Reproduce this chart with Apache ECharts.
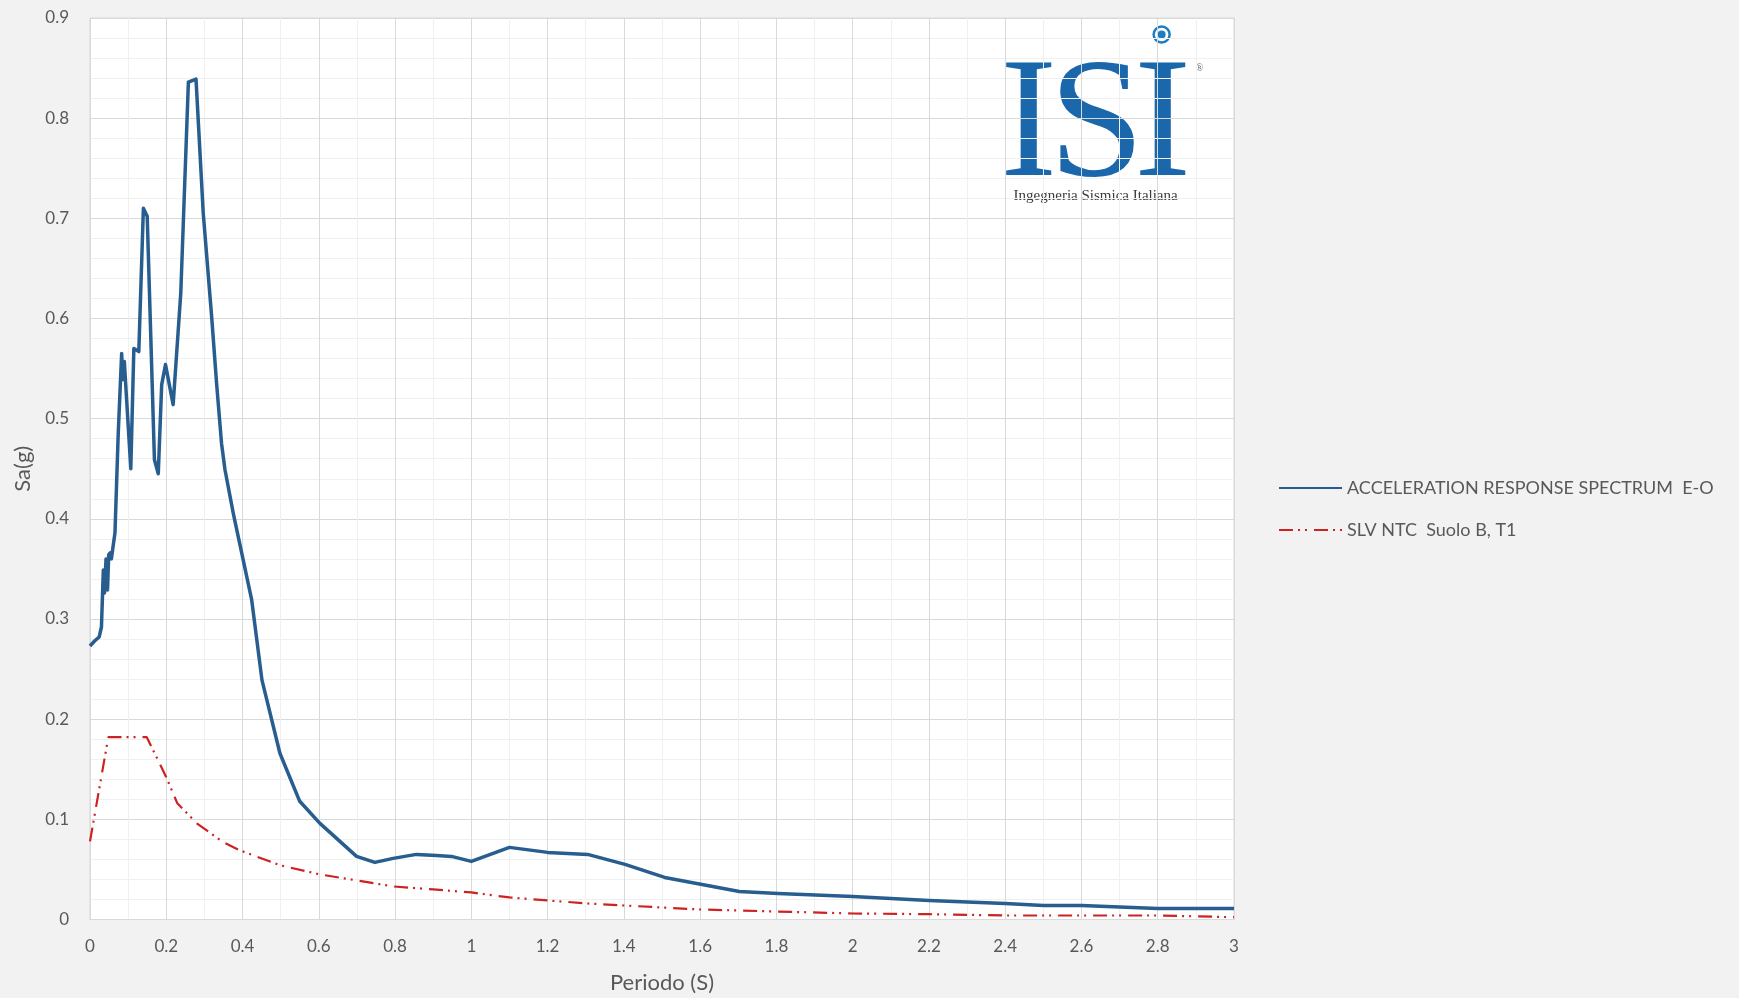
<!DOCTYPE html>
<html>
<head>
<meta charset="utf-8">
<title>Acceleration response spectrum</title>
<script src="https://cdn.jsdelivr.net/npm/echarts@6/dist/echarts.min.js"></script>
<style>
  html, body { margin: 0; padding: 0; background: #f2f2f2; }
  #chart { width: 1739px; height: 998px; }
</style>
</head>
<body>
<div id="chart"></div>
<script>
// Recorded spectrum, E-O component: period (s) and spectral acceleration (g)
const periodEO = [
  0, 0.012, 0.024, 0.030, 0.035, 0.038, 0.042, 0.046, 0.049, 0.053, 0.056,
  0.0655, 0.074, 0.083, 0.086, 0.090, 0.095, 0.107, 0.115, 0.128, 0.140,
  0.150, 0.169, 0.179, 0.188, 0.198, 0.218, 0.238, 0.258, 0.278, 0.297,
  0.319, 0.332, 0.345, 0.354, 0.376, 0.424, 0.451, 0.498, 0.550, 0.603,
  0.699, 0.747, 0.795, 0.856, 0.909, 0.948, 1.000, 1.100, 1.200, 1.305,
  1.403, 1.507, 1.605, 1.703, 1.804, 2.0, 2.2, 2.4, 2.5, 2.6, 2.8, 3.0
];
const saEO = [
  0.273, 0.278, 0.282, 0.292, 0.349, 0.326, 0.360, 0.329, 0.364, 0.366, 0.360,
  0.386, 0.485, 0.565, 0.539, 0.557, 0.556, 0.450, 0.570, 0.567, 0.710,
  0.702, 0.459, 0.445, 0.534, 0.554, 0.514, 0.625, 0.836, 0.839, 0.705,
  0.602, 0.535, 0.475, 0.449, 0.405, 0.319, 0.239, 0.166, 0.118, 0.096,
  0.063, 0.057, 0.061, 0.065, 0.064, 0.063, 0.058, 0.072, 0.067, 0.065,
  0.055, 0.042, 0.035, 0.028, 0.026, 0.023, 0.019, 0.016, 0.014, 0.014, 0.011, 0.011
];

// NTC design spectrum, SLV, soil B, topography T1
const periodNTC = [
  0, 0.048, 0.149, 0.2, 0.229, 0.28, 0.35, 0.393, 0.5, 0.603, 0.7, 0.795,
  0.9, 1.0, 1.1, 1.2, 1.305, 1.4, 1.6, 1.8, 2.0, 2.2, 2.4, 2.6, 2.8, 3.0
];
const saNTC = [
  0.078, 0.182, 0.182, 0.142, 0.116, 0.096, 0.077, 0.069, 0.054, 0.045, 0.039, 0.033,
  0.030, 0.027, 0.022, 0.019, 0.016, 0.014, 0.010, 0.008, 0.006, 0.0053, 0.004, 0.004, 0.004, 0.0023
];

const seriesNames = ['ACCELERATION RESPONSE SPECTRUM  E-O', 'SLV NTC  Suolo B, T1'];

const FONT = 'Lato, "Open Sans", sans-serif';
const TEXT_GREY = '#595959';
const LOGO_BLUE = '#1b67ab';

const pairs = (xs, ys) => xs.map((x, i) => [x, ys[i]]);

const chart = echarts.init(document.getElementById('chart'), null, { renderer: 'canvas' });

// one serif capital of the logo
const logoLetter = (ch, x) => ({
  type: 'text', x: x, y: 18,
  style: {
    text: ch, font: '172px "Liberation Serif", serif',
    textAlign: 'center', textVerticalAlign: 'top', fill: LOGO_BLUE
  }
});

chart.setOption({
  backgroundColor: '#f2f2f2',
  animation: false,
  textStyle: { fontFamily: FONT },
  grid: {
    left: 90, top: 18, width: 1144, height: 901.5,
    outerBoundsMode: 'none', containLabel: false,
    show: true, backgroundColor: '#ffffff', borderColor: '#d9d9d9', borderWidth: 1
  },
  legend: {
    orient: 'vertical',
    left: 1273, top: 474,
    itemWidth: 63, itemHeight: 14, itemGap: 24,
    itemStyle: { opacity: 0 },
    textStyle: { color: TEXT_GREY, fontSize: 18, fontFamily: FONT },
    data: seriesNames
  },
  xAxis: {
    type: 'value', min: 0, max: 3, interval: 0.2,
    name: 'Periodo (S)', nameLocation: 'middle', nameGap: 52,
    nameTextStyle: { color: TEXT_GREY, fontSize: 22, fontFamily: FONT },
    axisLine: { show: true, lineStyle: { color: '#d9d9d9', width: 1 } },
    axisTick: { show: false },
    axisLabel: { color: TEXT_GREY, fontSize: 17, margin: 19, fontFamily: FONT },
    splitLine: { show: true, lineStyle: { color: '#d9d9d9', width: 1 } },
    minorTick: { show: false, splitNumber: 2 },
    minorSplitLine: { show: true, lineStyle: { color: '#f0f0f0', width: 1 } }
  },
  yAxis: {
    type: 'value', min: 0, max: 0.9, interval: 0.1,
    name: 'Sa(g)', nameLocation: 'middle', nameGap: 52, nameRotate: 90,
    nameTextStyle: { color: TEXT_GREY, fontSize: 22, fontFamily: FONT },
    axisLine: { show: false },
    axisTick: { show: false },
    axisLabel: { color: TEXT_GREY, fontSize: 17, margin: 21, fontFamily: FONT },
    splitLine: { show: true, lineStyle: { color: '#d9d9d9', width: 1 } },
    minorTick: { show: false, splitNumber: 5 },
    minorSplitLine: { show: true, lineStyle: { color: '#f0f0f0', width: 1 } }
  },
  series: [
    {
      name: seriesNames[0], type: 'line', data: pairs(periodEO, saEO),
      showSymbol: false, symbol: 'none', z: 3,
      lineStyle: { color: '#275d8f', width: 3.5, join: 'round' },
      itemStyle: { color: '#275d8f' }
    },
    {
      name: seriesNames[1], type: 'line', data: pairs(periodNTC, saNTC),
      showSymbol: false, symbol: 'none', z: 2,
      lineStyle: { color: '#cc2222', width: 2.2, type: [14, 5, 2, 5, 2, 7] },
      itemStyle: { color: '#cc2222' }
    }
  ],
  graphic: [
    {
      type: 'group', left: 1000, top: 24, z: 10,
      children: [
        // ring and dot above the last letter
        { type: 'circle', shape: { cx: 162, cy: 9, r: 8 }, style: { fill: 'none', stroke: '#1f7cc0', lineWidth: 2.5 } },
        { type: 'circle', shape: { cx: 162, cy: 9, r: 4 }, style: { fill: '#1f7cc0' } },
        logoLetter('I', 29),
        logoLetter('S', 97),
        logoLetter('I', 163),
        {
          type: 'text', x: 200, y: 38,
          style: { text: '®', font: '10px "Liberation Serif", serif', fill: '#666', textAlign: 'center' }
        },
        {
          type: 'text', x: 96, y: 171,
          style: {
            text: 'Ingegneria Sismica Italiana', font: '15px "Liberation Serif", serif',
            fill: '#3a3a3a', textAlign: 'center', textVerticalAlign: 'middle'
          }
        }
      ]
    }
  ]
});
</script>
</body>
</html>
